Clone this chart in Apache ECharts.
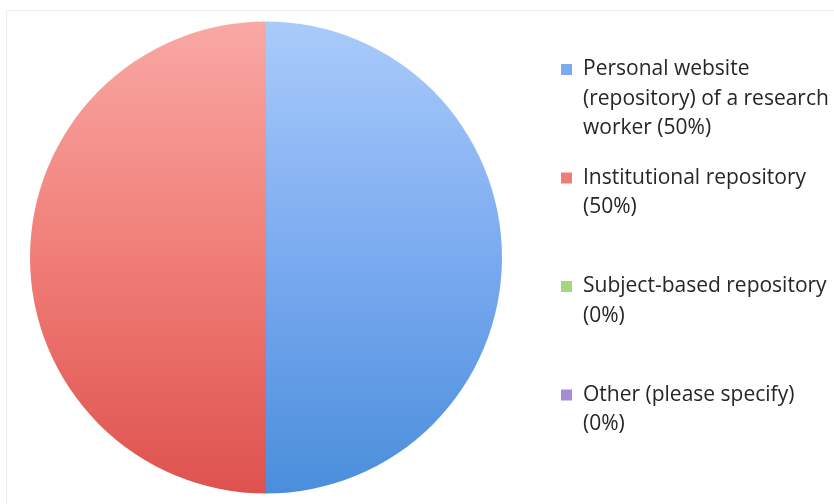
<!DOCTYPE html>
<html>
<head>
<meta charset="utf-8">
<script src="https://cdn.jsdelivr.net/npm/echarts@6/dist/echarts.min.js"></script>
<style>
  html, body { margin: 0; padding: 0; background: #fff; }
  #chart { width: 834px; height: 504px; }
</style>
</head>
<body>
<div id="chart"></div>
<script>
// Where research output is deposited (share of respondents)
var categories = [
  'Personal website\n(repository) of a research\nworker',
  'Institutional repository',
  'Subject-based repository',
  'Other (please specify)'
];
var values = [50, 50, 0, 0];

// top / middle / bottom shades for each slice, plus the flat legend swatch
var shadeTop = ['#a9cbfa', '#f9a8a4', '#c4e6a2', '#c3b0ea'];
var shadeMid = ['#7aaaf0', '#f07d77', '#a6d67e', '#a68cd8'];
var shadeBot = ['#4a8edb', '#de524e', '#86bf58', '#8a6cc4'];

var total = values.reduce(function (a, b) { return a + b; }, 0);

function pieGradient(i) {
  return {
    type: 'linear', x: 0, y: 22, x2: 0, y2: 493, global: true,
    colorStops: [
      { offset: 0, color: shadeTop[i] },
      { offset: 0.5, color: shadeMid[i] },
      { offset: 1, color: shadeBot[i] }
    ]
  };
}

var LH = 29.5;
var rich = {
  t: { fontFamily: 'Open Sans', fontSize: 21, color: '#262626', lineHeight: LH, verticalAlign: 'middle' },
  ind: { width: 22, lineHeight: LH },
  gap: { width: 11, lineHeight: LH }
};
categories.forEach(function (c, i) {
  rich['sq' + i] = {
    width: 11, height: 11, lineHeight: LH, verticalAlign: 'middle',
    backgroundColor: shadeMid[i]
  };
});

function legendText(name) {
  var i = categories.indexOf(name);
  var pct = '(' + Math.round(values[i] / total * 100) + '%)';
  var lines = name.split('\n');
  var last = lines[lines.length - 1];
  if (last.length < 18) lines[lines.length - 1] = last + ' ' + pct;
  else lines.push(pct);
  while (lines.length < 3) lines.push(' ');
  return lines.map(function (l, k) {
    return (k === 0 ? '{sq' + i + '|}{gap|}' : '{ind|}') + '{t|' + l + '}';
  }).join('\n');
}

var chart = echarts.init(document.getElementById('chart'), null, { renderer: 'canvas' });
chart.setOption({
  backgroundColor: '#ffffff',
  animation: false,
  graphic: [{
    type: 'rect', silent: true,
    shape: { x: 6.5, y: 10.5, width: 900, height: 600 },
    style: { fill: 'none', stroke: '#ececec', lineWidth: 1 }
  }],
  legend: {
    orient: 'vertical',
    left: 551,
    top: 54,
    itemGap: 28.5,
    icon: 'none',
    itemWidth: 0,
    itemHeight: 0,
    selectedMode: false,
    data: categories,
    formatter: legendText,
    textStyle: { rich: rich }
  },
  series: [{
    type: 'pie',
    center: [266, 257.5],
    radius: 236,
    startAngle: 90,
    clockwise: true,
    label: { show: false },
    labelLine: { show: false },
    emphasis: { disabled: true },
    itemStyle: { borderWidth: 0 },
    data: categories.map(function (c, i) {
      return { name: c, value: values[i], itemStyle: { color: pieGradient(i) } };
    })
  }]
});
</script>
</body>
</html>
